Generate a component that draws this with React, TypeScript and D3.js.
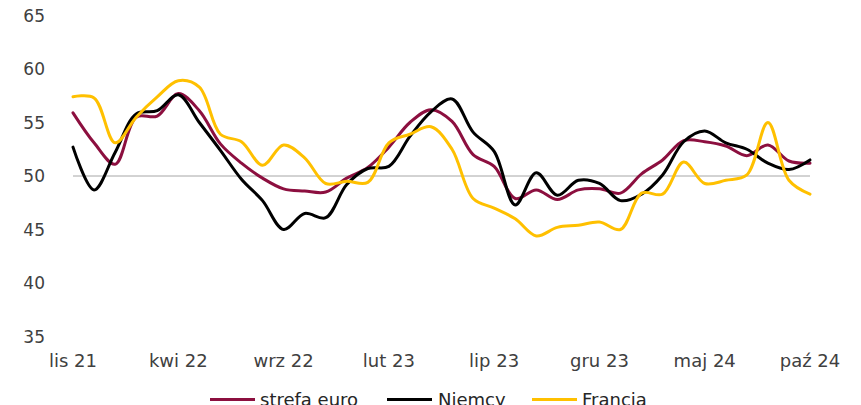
import React from 'react';
import * as d3 from 'd3';

// months lis 21 .. paź 24
const months = [
  'lis 21', 'gru 21', 'sty 22', 'lut 22', 'mar 22', 'kwi 22', 'maj 22', 'cze 22', 'lip 22', 'sie 22',
  'wrz 22', 'paź 22', 'lis 22', 'gru 22', 'sty 23', 'lut 23', 'mar 23', 'kwi 23', 'maj 23', 'cze 23',
  'lip 23', 'sie 23', 'wrz 23', 'paź 23', 'lis 23', 'gru 23', 'sty 24', 'lut 24', 'mar 24', 'kwi 24',
  'maj 24', 'cze 24', 'lip 24', 'sie 24', 'wrz 24', 'paź 24',
];

const tickLabels = ['lis 21', 'kwi 22', 'wrz 22', 'lut 23', 'lip 23', 'gru 23', 'maj 24', 'paź 24'];
const yTicks = [35, 40, 45, 50, 55, 60, 65];

const strefaEuro = [
  55.9, 53.1, 51.1, 55.5, 55.6, 57.7, 56.1, 53.0, 51.2, 49.8,
  48.8, 48.6, 48.5, 49.8, 50.8, 52.7, 55.0, 56.2, 55.1, 52.0,
  50.9, 47.9, 48.7, 47.8, 48.7, 48.8, 48.4, 50.2, 51.5, 53.3,
  53.2, 52.8, 51.9, 52.9, 51.4, 51.2,
];

const niemcy = [
  52.7, 48.7, 52.2, 55.8, 56.1, 57.6, 55.0, 52.4, 49.7, 47.7,
  45.0, 46.5, 46.1, 49.2, 50.7, 50.9, 53.7, 56.0, 57.2, 54.1,
  52.3, 47.3, 50.3, 48.2, 49.6, 49.3, 47.7, 48.3, 50.1, 53.2,
  54.2, 53.1, 52.5, 51.2, 50.6, 51.5,
];

const francja = [
  57.4, 57.3, 53.1, 55.5, 57.4, 58.9, 58.3, 53.9, 53.2, 51.0,
  52.9, 51.7, 49.3, 49.5, 49.4, 53.1, 53.9, 54.6, 52.5, 47.9,
  47.0, 46.0, 44.4, 45.2, 45.4, 45.7, 45.0, 48.4, 48.3, 51.3,
  49.3, 49.6, 50.1, 55.0, 49.6, 48.3,
];

const series = [
  { name: 'strefa euro', values: strefaEuro, color: '#8c0f3f' },
  { name: 'Niemcy', values: niemcy, color: '#000000' },
  { name: 'Francja', values: francja, color: '#ffc000' },
];

const width = 861;
const height = 405;

export default function App() {
  const x = d3.scalePoint<string>().domain(months).range([73, 810]);
  const y = d3.scaleLinear().domain([35, 65]).range([336.5, 15.5]);

  const line = d3
    .line<number>()
    .x((_, i) => x(months[i]) as number)
    .y((d) => y(d))
    .curve(d3.curveCatmullRom.alpha(0.5));

  const legendPos = [
    { lx: 210, tx: 260 },
    { lx: 387, tx: 438 },
    { lx: 532, tx: 582 },
  ];

  return (
    <svg
      width={width}
      height={height}
      style={{ position: 'absolute', left: 0, top: 0, background: '#fff' }}
      fontFamily="'DejaVu Sans', Verdana, sans-serif"
    >
      {/* y axis labels */}
      {yTicks.map((t) => (
        <text key={t} x={45} y={y(t)} dy="0.36em" textAnchor="end" fontSize={17} fill="#404040">
          {t}
        </text>
      ))}

      {/* reference line at 50 */}
      <line x1={73} x2={810} y1={y(50)} y2={y(50)} stroke="#a6a6a6" strokeWidth={1} />

      {/* x axis labels */}
      {tickLabels.map((m) => (
        <text key={m} x={x(m)} y={367} textAnchor="middle" fontSize={18} fill="#404040">
          {m}
        </text>
      ))}

      {series.map((s) => (
        <path
          key={s.name}
          d={line(s.values) ?? ''}
          fill="none"
          stroke={s.color}
          strokeWidth={3}
          strokeLinejoin="round"
          strokeLinecap="round"
        />
      ))}

      {/* legend */}
      {series.map((s, i) => (
        <g key={s.name}>
          <line
            x1={legendPos[i].lx}
            x2={legendPos[i].lx + 45}
            y1={399.5}
            y2={399.5}
            stroke={s.color}
            strokeWidth={3}
          />
          <text x={legendPos[i].tx} y={406} fontSize={18} fill="#262626">
            {s.name}
          </text>
        </g>
      ))}
    </svg>
  );
}
